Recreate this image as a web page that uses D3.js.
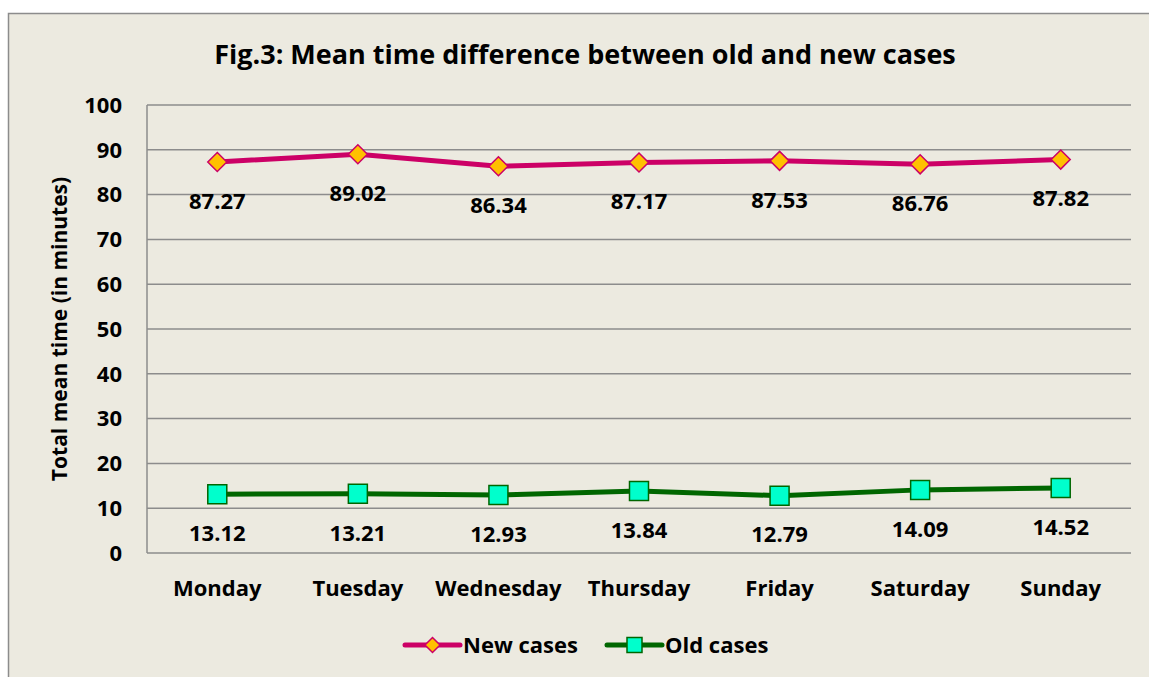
<!DOCTYPE html>
<html>
<head>
<meta charset="utf-8">
<script src="https://cdn.jsdelivr.net/npm/d3@7"></script>
<style>
  body { margin: 0; background: #fff; }
  text { font-family: "Open Sans", "Noto Sans", sans-serif; font-weight: bold; fill: #000; }
</style>
</head>
<body>
<script>
var days = ['Monday', 'Tuesday', 'Wednesday', 'Thursday', 'Friday', 'Saturday', 'Sunday'];
var newCases = [87.27, 89.02, 86.34, 87.17, 87.53, 86.76, 87.82];
var oldCases = [13.12, 13.21, 12.93, 13.84, 12.79, 14.09, 14.52];
var yTicks = [0, 10, 20, 30, 40, 50, 60, 70, 80, 90, 100];

var width = 1149, height = 677;
var margin = {left: 147, right: 18, top: 105, bottom: 124};

var svg = d3.select('body').append('svg').attr('width', width).attr('height', height);

// chart frame
svg.append('rect').attr('x', 8.5).attr('y', 13.5).attr('width', width + 10).attr('height', height + 10)
  .attr('fill', '#eceae0').attr('stroke', '#8c8c8c').attr('stroke-width', 1.5);

var x = d3.scaleBand().domain(days).range([margin.left, width - margin.right]);
var y = d3.scaleLinear().domain([0, 100]).range([height - margin.bottom, margin.top]);
var cx = function(i) { return x(days[i]) + x.bandwidth() / 2; };

// gridlines
svg.append('g').selectAll('line.grid').data(yTicks).enter().append('line').attr('class', 'grid')
  .attr('x1', margin.left).attr('x2', width - margin.right)
  .attr('y1', function(d) { return y(d); }).attr('y2', function(d) { return y(d); })
  .attr('stroke', '#8c8c8c').attr('stroke-width', 1.5);
svg.append('line').attr('x1', margin.left).attr('x2', margin.left)
  .attr('y1', y(0)).attr('y2', y(100)).attr('stroke', '#8c8c8c').attr('stroke-width', 1.5);

// y axis labels
svg.append('g').selectAll('text.ytick').data(yTicks).enter().append('text').attr('class', 'ytick')
  .attr('x', 122).attr('y', function(d) { return y(d); }).attr('dy', '0.35em')
  .style('text-anchor', 'end').style('font-size', '22px').text(function(d) { return d; });

// x axis labels
svg.append('g').selectAll('text.xtick').data(days).enter().append('text').attr('class', 'xtick')
  .attr('x', function(d) { return x(d) + x.bandwidth() / 2; }).attr('y', 588).attr('dy', '0.35em')
  .style('text-anchor', 'middle').style('font-size', '22px').text(function(d) { return d; });

// titles
svg.append('text').attr('x', 585).attr('y', 55).attr('dy', '0.35em').style('text-anchor', 'middle')
  .style('font-size', '27px').text('Fig.3: Mean time difference between old and new cases');
svg.append('text').attr('transform', 'translate(60,' + ((y(0) + y(100)) / 2) + ') rotate(-90)')
  .attr('dy', '0.35em').style('text-anchor', 'middle').style('font-size', '21px')
  .text('Total mean time (in minutes)');

// marker shapes: r is half width
var diamond = function(r) { return 'M0,' + (-r) + 'L' + r + ',0L0,' + r + 'L' + (-r) + ',0Z'; };
var square = function(r) { return 'M' + (-r) + ',' + (-r) + 'h' + (2 * r) + 'v' + (2 * r) + 'h' + (-2 * r) + 'Z'; };

var series = [
  {name: 'New cases', values: newCases, line: '#cc0066', fill: '#ffc000', shape: diamond, r: 9.5},
  {name: 'Old cases', values: oldCases, line: '#006600', fill: '#00ffcc', shape: square, r: 9.5}
];

var line = d3.line()
  .x(function(d, i) { return cx(i); })
  .y(function(d) { return y(d); });

series.forEach(function(s) {
  svg.append('path').attr('d', line(s.values)).attr('fill', 'none')
    .attr('stroke', s.line).attr('stroke-width', 5).attr('stroke-linejoin', 'round');
  svg.append('g').selectAll('path.marker').data(s.values).enter().append('path').attr('class', 'marker')
    .attr('transform', function(d, i) { return 'translate(' + cx(i) + ',' + y(d) + ')'; })
    .attr('d', s.shape(s.r))
    .attr('fill', s.fill).attr('stroke', s.line).attr('stroke-width', 1.5);
  svg.append('g').selectAll('text.label').data(s.values).enter().append('text').attr('class', 'label')
    .attr('x', function(d, i) { return cx(i); })
    .attr('y', function(d) { return y(d) + 39; }).attr('dy', '0.35em')
    .style('text-anchor', 'middle').style('font-size', '22px')
    .text(function(d) { return d.toFixed(2); });
});

// legend
var legendX = [405, 607];
series.forEach(function(s, i) {
  var g = svg.append('g').attr('transform', 'translate(' + legendX[i] + ',645)');
  g.append('line').attr('x1', 0).attr('x2', 55).attr('stroke', s.line).attr('stroke-width', 5).attr('stroke-linecap', 'round');
  g.append('path').attr('transform', 'translate(27.5,0)').attr('d', s.shape(s.r - 2))
    .attr('fill', s.fill).attr('stroke', s.line).attr('stroke-width', 1.5);
  g.append('text').attr('x', 58).attr('dy', '0.35em').style('font-size', '22px').text(s.name);
});
</script>
</body>
</html>
